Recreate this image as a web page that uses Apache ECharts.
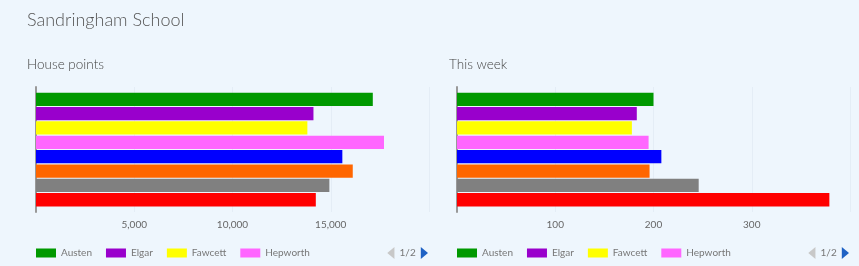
<!DOCTYPE html>
<html><head><meta charset="utf-8">
<script src="https://cdn.jsdelivr.net/npm/echarts@6/dist/echarts.min.js"></script>
<style>html,body{margin:0;padding:0;background:#eef6fd;}#c{width:859px;height:266px;}</style>
</head><body><div id="c"></div>
<script>
const houses = ['Austen','Elgar','Fawcett','Hepworth','Keller','Lister','Owens','Turing'];
const colors = ['#009900','#9900cc','#ffff00','#ff66ff','#0000ff','#ff6600','#808080','#ff0000'];
const housePoints = [17140,14120,13810,17710,15590,16120,14930,14240];
const thisWeek = [200,183,178,195,208,196,246,379];
const category = ['Total'];
const leftTicks = [0,5000,10000,15000,20000];
const rightTicks = [0,100,200,300,400];

const chart = echarts.init(document.getElementById('c'), null, {renderer:'canvas'});
const font = 'Lato, "Open Sans", sans-serif';
function xAx(idx, max, interval){
  return {type:'value', gridIndex:idx, min:0, max:max, interval:interval,
    axisLine:{show:false}, axisTick:{show:false},
    axisLabel:{color:'#666', fontFamily:font, fontSize:10, showMinLabel:false, showMaxLabel:false,
      formatter:v=>v.toLocaleString('en-US')},
    splitLine:{show:true, lineStyle:{color:'#e4edf6', width:1}}};
}
function yAx(idx){
  return {type:'category', gridIndex:idx, data:category, inverse:true,
    axisLine:{show:true, lineStyle:{color:'#999', width:2}}, axisTick:{show:false}, axisLabel:{show:false}};
}
const series = [];
[housePoints, thisWeek].forEach((vals, g) => {
  houses.forEach((h, i) => {
    series.push({type:'bar', name:h, xAxisIndex:g, yAxisIndex:g, data:[vals[i]],
      itemStyle:{color:colors[i]}, barGap:'8%', barCategoryGap:'9%', silent:true});
  });
});
// legend swatch: 20x9 coloured rect preceded by a 10px transparent lead
const swatch = 'path://M0,0 L0,0 M10,0 L30,0 L30,9 L10,9 Z';
function legend(left){
  return {type:'scroll', left:left, top:242, width:402, orient:'horizontal', data:houses,
    itemWidth:30, itemHeight:9, itemGap:4, icon:swatch,
    textStyle:{color:'#777', fontFamily:font, fontSize:10},
    pageIconColor:'#1f62c4', pageIconInactiveColor:'#c8c8c8', pageIconSize:12,
    pageButtonGap:69,
    pageTextStyle:{color:'#777', fontFamily:font, fontSize:10}, pageButtonItemGap:1};
}
chart.setOption({
  backgroundColor:'#eef6fd',
  animation:false,
  title:[
    {text:'Sandringham School', left:22, top:6, textStyle:{color:'#555', fontFamily:font, fontWeight:300, fontSize:18}},
    {text:'House points', left:22, top:53, textStyle:{color:'#444', fontFamily:font, fontWeight:300, fontSize:13.5}},
    {text:'This week', left:444, top:53, textStyle:{color:'#444', fontFamily:font, fontWeight:300, fontSize:13.5}}
  ],
  legend:[legend(21), legend(442)],
  grid:[
    {left:36, top:87, width:393, height:125, containLabel:false},
    {left:457, top:87, width:393, height:125, containLabel:false}
  ],
  xAxis:[xAx(0, leftTicks[leftTicks.length-1], leftTicks[1]), xAx(1, rightTicks[rightTicks.length-1], rightTicks[1])],
  yAxis:[yAx(0), yAx(1)],
  series:series
});
</script></body></html>
